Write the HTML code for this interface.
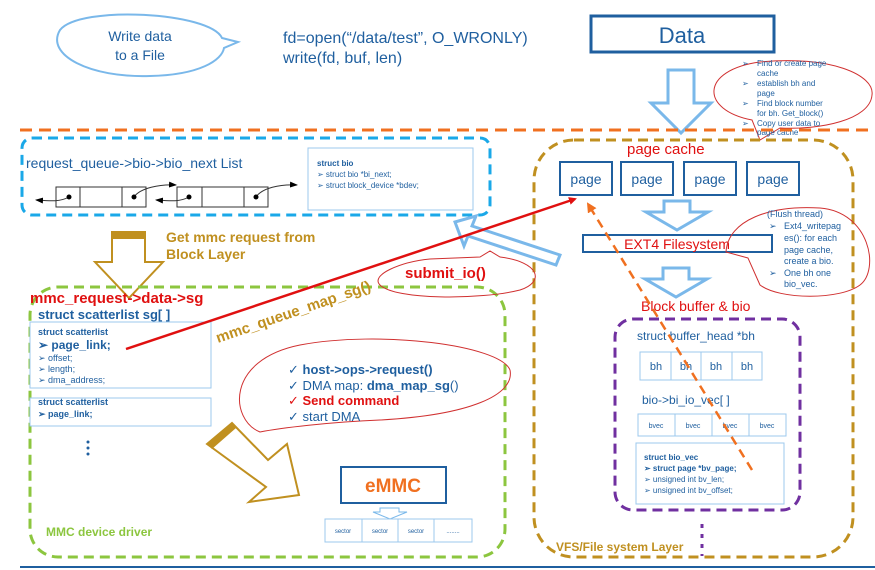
<!DOCTYPE html>
<html><head><meta charset="utf-8"><style>
html,body{margin:0;padding:0;background:#fff;}
svg{display:block;font-family:"Liberation Sans",sans-serif;}
</style></head><body>
<svg width="875" height="570" viewBox="0 0 875 570" xmlns="http://www.w3.org/2000/svg">
<defs>
<marker id="ra" markerWidth="8" markerHeight="8" refX="6" refY="4" orient="auto" markerUnits="userSpaceOnUse"><path d="M0,0 L8,4 L0,8 z" fill="#e01010"/></marker>
<marker id="oa" markerWidth="10" markerHeight="10" refX="8" refY="5" orient="auto" markerUnits="userSpaceOnUse"><path d="M0,0 L10,5 L0,10 z" fill="#f07020"/></marker>
<marker id="ka" markerWidth="8" markerHeight="8" refX="7" refY="4" orient="auto" markerUnits="userSpaceOnUse"><path d="M0,1 L8,4 L0,7 z" fill="#000"/></marker>
</defs>

<!-- top bubble -->
<path d="M222,38 C210,12 80,5 60,30 C45,55 90,78 150,76 C200,75 222,60 224,48 L238,42 Z" fill="#fff" stroke="#7ab8ea" stroke-width="2"/>
<text x="140" y="41" font-size="14" fill="#1f5f9f" text-anchor="middle">Write data</text>
<text x="140" y="60" font-size="14" fill="#1f5f9f" text-anchor="middle">to a File</text>
<text x="283" y="43" font-size="16" fill="#1f5f9f">fd=open(“/data/test”, O_WRONLY)</text>
<text x="283" y="63" font-size="16" fill="#1f5f9f">write(fd, buf, len)</text>

<rect x="591" y="16" width="183" height="36" fill="#fff" stroke="#1f5f9f" stroke-width="3"/>
<text x="682" y="43" font-size="22" fill="#1f5f9f" text-anchor="middle">Data</text>

<!-- blue arrow from data -->
<path d="M668,70 L694,70 L694,103 L711,103 L681,133 L651,103 L668,103 Z" fill="#fff" stroke="#7ab8ea" stroke-width="3"/>

<!-- red note bubble top right -->
<path d="M760,140 L752,120 C700,110 700,70 760,62 C830,55 875,75 872,95 C870,120 820,130 780,128 Z" fill="none" stroke="#d03030" stroke-width="1"/>
<g font-size="8" fill="#1f5f9f">
<text x="742" y="66">➢</text><text x="757" y="66">Find or create page</text>
<text x="757" y="76">cache</text>
<text x="742" y="86">➢</text><text x="757" y="86">establish bh and</text>
<text x="757" y="96">page</text>
<text x="742" y="106">➢</text><text x="757" y="106">Find block number</text>
<text x="757" y="116">for bh. Get_block()</text>
<text x="742" y="126">➢</text><text x="757" y="126">Copy user data to</text>
<text x="757" y="135">page cache</text>
</g>

<!-- orange dashed separator -->
<line x1="20" y1="130" x2="875" y2="130" stroke="#f07020" stroke-width="3" stroke-dasharray="12,7"/>

<!-- blue dashed box -->
<rect x="22" y="138" width="468" height="77" rx="10" fill="none" stroke="#1aa8e8" stroke-width="3" stroke-dasharray="10,6"/>
<text x="26" y="168" font-size="14" fill="#1f5f9f">request_queue-&gt;bio-&gt;bio_next List</text>
<g fill="none" stroke="#333" stroke-width="1">
<rect x="56" y="187" width="90" height="20"/><line x1="80" y1="187" x2="80" y2="207"/><line x1="122" y1="187" x2="122" y2="207"/>
<rect x="177" y="187" width="91" height="20"/><line x1="202" y1="187" x2="202" y2="207"/><line x1="244" y1="187" x2="244" y2="207"/>
<path d="M69,197 C60,202 50,201 36,200" marker-end="url(#ka)"/>
<path d="M134,197 C140,188 160,184 176,185" marker-end="url(#ka)"/>
<path d="M189,197 C180,202 170,201 156,200" marker-end="url(#ka)"/>
<path d="M256,197 C262,188 280,184 297,185" marker-end="url(#ka)"/>
</g>
<g fill="#000"><circle cx="69" cy="197" r="2.5"/><circle cx="134" cy="197" r="2.5"/><circle cx="189" cy="197" r="2.5"/><circle cx="256" cy="197" r="2.5"/></g>
<rect x="308" y="148" width="165" height="62" fill="#fff" stroke="#9cc8ee" stroke-width="1"/>
<text x="317" y="166" font-size="8" font-weight="bold" fill="#1f5f9f">struct bio</text>
<text x="317" y="177" font-size="8" fill="#1f5f9f">➢   struct bio *bi_next;</text>
<text x="317" y="188" font-size="8" fill="#1f5f9f">➢   struct block_device *bdev;</text>

<!-- brown down arrow -->
<path d="M112,232 L145,232 L145,262 L163,262 L129,298 L95,262 L112,262 Z" fill="#fff" stroke="#c09020" stroke-width="2"/>
<rect x="112" y="232" width="33" height="7" fill="#c09020"/>
<text x="166" y="242" font-size="14" font-weight="bold" fill="#c09020">Get mmc request from</text>
<text x="166" y="259" font-size="14" font-weight="bold" fill="#c09020">Block Layer</text>

<!-- green dashed box -->
<rect x="30" y="287" width="475" height="270" rx="28" fill="none" stroke="#8cc63f" stroke-width="3" stroke-dasharray="10,6"/>
<text x="30" y="303" font-size="15" font-weight="bold" fill="#e01010">mmc_request-&gt;data-&gt;sg</text>
<text x="38" y="319" font-size="13" font-weight="bold" fill="#1f5f9f">struct scatterlist  sg[ ]</text>
<rect x="30" y="322" width="181" height="66" fill="#fff" stroke="#9cc8ee"/>
<text x="38" y="335" font-size="9" font-weight="bold" fill="#1f5f9f">struct scatterlist</text>
<text x="38" y="349" font-size="12" font-weight="bold" fill="#1f5f9f">➢  page_link;</text>
<text x="38" y="361" font-size="9" fill="#1f5f9f">➢   offset;</text>
<text x="38" y="372" font-size="9" fill="#1f5f9f">➢   length;</text>
<text x="38" y="383" font-size="9" fill="#1f5f9f">➢   dma_address;</text>
<rect x="30" y="398" width="181" height="28" fill="#fff" stroke="#9cc8ee"/>
<text x="38" y="405" font-size="9" font-weight="bold" fill="#1f5f9f">struct scatterlist</text>
<text x="38" y="417" font-size="9" font-weight="bold" fill="#1f5f9f">➢   page_link;</text>
<g fill="#1f5f9f"><circle cx="88" cy="442" r="1.5"/><circle cx="88" cy="448" r="1.5"/><circle cx="88" cy="454" r="1.5"/></g>

<!-- bubble commands -->
<path d="M260,432 C230,420 225,360 300,345 C380,330 500,345 510,370 C515,395 470,415 380,420 C330,422 280,428 260,432 Z" fill="none" stroke="#d03030" stroke-width="1"/>
<text x="288" y="374" font-size="13" fill="#1f5f9f">✓ <tspan font-weight="bold">host-&gt;ops-&gt;request()</tspan></text>
<text x="288" y="390" font-size="13" fill="#1f5f9f">✓ DMA map: <tspan font-weight="bold">dma_map_sg</tspan>()</text>
<text x="288" y="405" font-size="13" fill="#e01010">✓ <tspan font-weight="bold">Send command</tspan></text>
<text x="288" y="421" font-size="13" fill="#1f5f9f">✓ start DMA</text>

<!-- brown diagonal arrow -->
<path d="M207,444 L232,423 L268,460 L287,444 L299,495 L249,502 L266,487 Z" fill="#fff" stroke="#c09020" stroke-width="2"/>
<path d="M207,444 L232,423 L236,428 L212,449 Z" fill="#c09020"/>

<!-- eMMC -->
<rect x="341" y="467" width="105" height="36" fill="#fff" stroke="#1f5f9f" stroke-width="2"/>
<text x="393" y="492" font-size="19" font-weight="bold" fill="#f07020" text-anchor="middle">eMMC</text>
<path d="M380,508 L399,508 L399,512 L407,512 L390,519 L373,512 L380,512 Z" fill="none" stroke="#7ab8ea"/>
<g fill="none" stroke="#9cc8ee"><rect x="325" y="519" width="147" height="23"/><line x1="362" y1="519" x2="362" y2="542"/><line x1="398" y1="519" x2="398" y2="542"/><line x1="434" y1="519" x2="434" y2="542"/></g>
<g font-size="6" fill="#1f5f9f" text-anchor="middle"><text x="343" y="533">sector</text><text x="380" y="533">sector</text><text x="416" y="533">sector</text><text x="453" y="533">........</text></g>
<text x="46" y="536" font-size="12" font-weight="bold" fill="#8cc63f">MMC device driver</text>

<!-- VFS layer -->
<rect x="534" y="140" width="319" height="417" rx="40" fill="none" stroke="#c09020" stroke-width="3" stroke-dasharray="10,6"/>
<text x="627" y="154" font-size="15" fill="#e01010">page cache</text>
<g fill="#fff" stroke="#1f5f9f" stroke-width="2">
<rect x="560" y="162" width="52" height="33"/><rect x="621" y="162" width="52" height="33"/><rect x="684" y="162" width="52" height="33"/><rect x="747" y="162" width="52" height="33"/>
</g>
<g font-size="14" fill="#1f5f9f" text-anchor="middle"><text x="586" y="184">page</text><text x="647" y="184">page</text><text x="710" y="184">page</text><text x="773" y="184">page</text></g>
<path d="M664,201 L690,201 L690,212 L708,212 L677,230 L646,212 L664,212 Z" fill="#fff" stroke="#7ab8ea" stroke-width="3"/>
<rect x="583" y="235" width="189" height="17" fill="#fff" stroke="#1f5f9f" stroke-width="2"/>
<text x="677" y="249" font-size="14" fill="#e01010" text-anchor="middle">EXT4 Filesystem</text>
<path d="M663,268 L689,268 L689,279 L707,279 L676,297 L645,279 L663,279 Z" fill="#fff" stroke="#7ab8ea" stroke-width="3"/>

<!-- flush bubble -->
<path d="M748,258 L726,252 C728,220 770,205 820,208 C870,212 880,270 860,285 C840,300 780,300 760,285 Z" fill="none" stroke="#d03030" stroke-width="1"/>
<g font-size="9" fill="#1f5f9f">
<text x="767" y="217">(Flush thread)</text>
<text x="769" y="229">➢</text><text x="784" y="229">Ext4_writepag</text>
<text x="784" y="241">es(): for each</text>
<text x="784" y="253">page cache,</text>
<text x="784" y="264">create a bio.</text>
<text x="769" y="276">➢</text><text x="784" y="276">One bh one</text>
<text x="784" y="287">bio_vec.</text>
</g>

<text x="641" y="311" font-size="14" fill="#e01010">Block buffer &amp; bio</text>
<rect x="615" y="319" width="185" height="191" rx="18" fill="none" stroke="#7030a0" stroke-width="3" stroke-dasharray="10,6"/>
<text x="637" y="340" font-size="12" fill="#1f5f9f">struct buffer_head *bh</text>
<g fill="none" stroke="#9cc8ee"><rect x="640" y="352" width="122" height="28"/><line x1="671" y1="352" x2="671" y2="380"/><line x1="701" y1="352" x2="701" y2="380"/><line x1="732" y1="352" x2="732" y2="380"/></g>
<g font-size="11" fill="#1f5f9f" text-anchor="middle"><text x="656" y="370">bh</text><text x="686" y="370">bh</text><text x="716" y="370">bh</text><text x="747" y="370">bh</text></g>
<text x="642" y="404" font-size="12" fill="#1f5f9f">bio-&gt;bi_io_vec[ ]</text>
<g fill="none" stroke="#9cc8ee"><rect x="638" y="414" width="148" height="22"/><line x1="675" y1="414" x2="675" y2="436"/><line x1="712" y1="414" x2="712" y2="436"/><line x1="749" y1="414" x2="749" y2="436"/></g>
<g font-size="7" fill="#1f5f9f" text-anchor="middle"><text x="656" y="428">bvec</text><text x="693" y="428">bvec</text><text x="730" y="428">bvec</text><text x="767" y="428">bvec</text></g>
<rect x="636" y="443" width="148" height="61" fill="#fff" stroke="#9cc8ee"/>
<text x="644" y="460" font-size="8" font-weight="bold" fill="#1f5f9f">struct bio_vec</text>
<text x="644" y="471" font-size="8" font-weight="bold" fill="#1f5f9f">➢   struct page *bv_page;</text>
<text x="644" y="482" font-size="8" fill="#1f5f9f">➢   unsigned int bv_len;</text>
<text x="644" y="493" font-size="8" fill="#1f5f9f">➢   unsigned int bv_offset;</text>
<line x1="702" y1="524" x2="702" y2="556" stroke="#7030a0" stroke-width="3" stroke-dasharray="4,6"/>
<text x="556" y="551" font-size="12" font-weight="bold" fill="#c09020">VFS/File system Layer</text>

<!-- bottom line -->
<line x1="20" y1="567" x2="875" y2="567" stroke="#1f5f9f" stroke-width="2"/>

<!-- blue diagonal arrow to bio box -->
<path d="M455,222 L476,216 L472,226 L560,255 L556,265 L468,236 L464,246 Z" fill="#fff" stroke="#7ab8ea" stroke-width="3"/>

<!-- submit_io bubble -->
<path d="M430,259 C400,262 370,275 380,285 C395,300 480,300 520,290 C545,282 540,262 500,257 L490,251 L480,257 Z" fill="none" stroke="#d03030" stroke-width="1"/>
<text x="405" y="278" font-size="15" font-weight="bold" fill="#e01010">submit_io()</text>

<!-- mmc_queue_map_sg rotated -->
<text x="0" y="0" font-size="15" font-weight="bold" fill="#c09020" transform="translate(218,343) rotate(-19)">mmc_queue_map_sg()</text>

<!-- red line -->
<line x1="126" y1="349" x2="575" y2="199" stroke="#e01010" stroke-width="2.5" marker-end="url(#ra)"/>
<!-- orange dashed arrow -->
<line x1="752" y1="470" x2="588" y2="204" stroke="#f07020" stroke-width="2.5" stroke-dasharray="9,6" marker-end="url(#oa)"/>
</svg>
</body></html>
